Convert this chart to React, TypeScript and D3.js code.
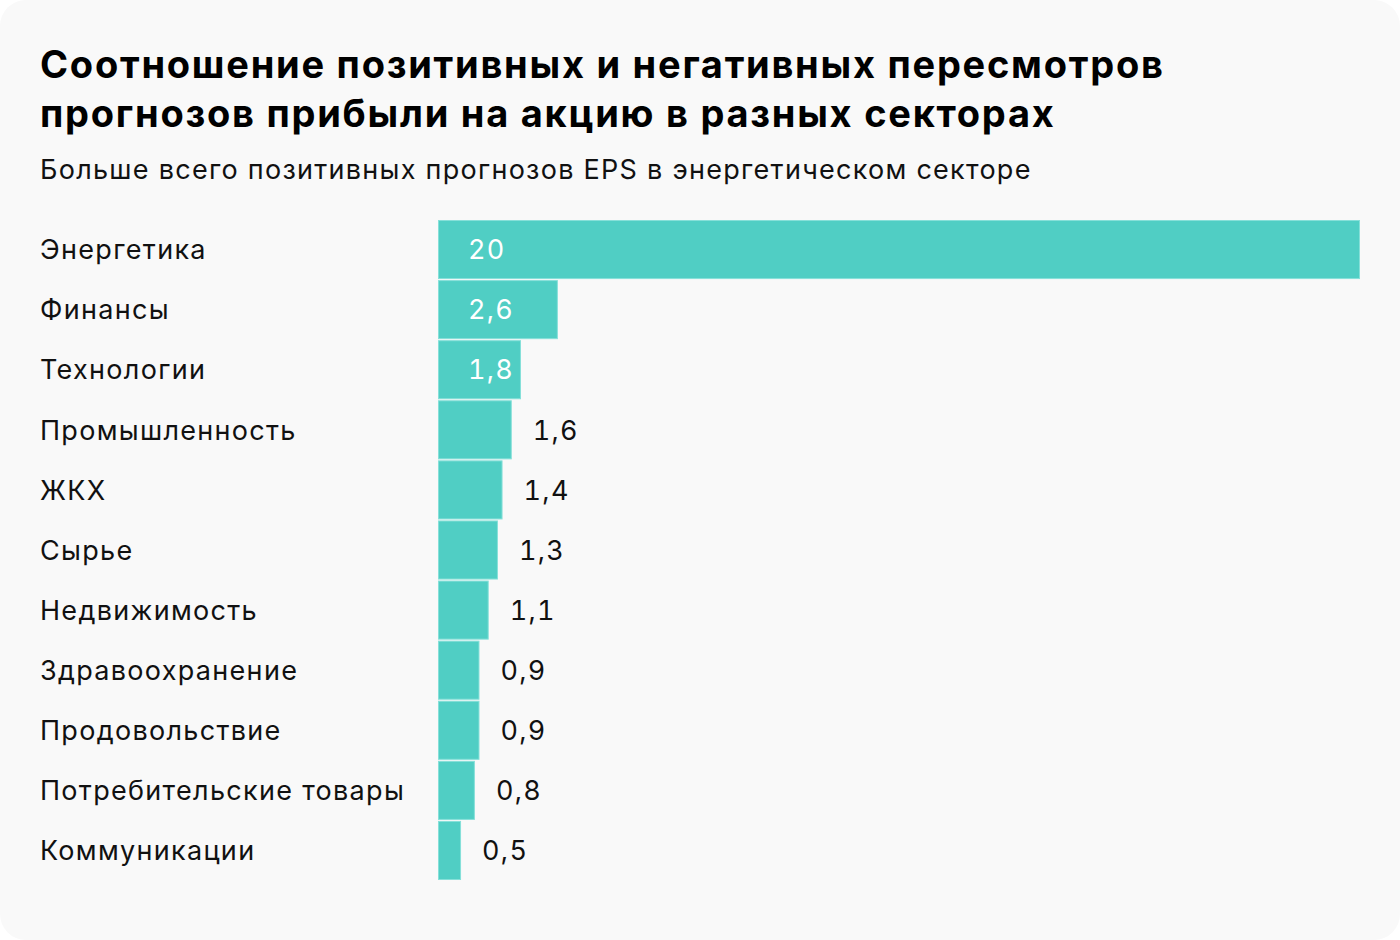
import * as d3 from "d3";

// Sector names and values (EPS revision ratio)
const sectors = [
  "Энергетика",
  "Финансы",
  "Технологии",
  "Промышленность",
  "ЖКХ",
  "Сырье",
  "Недвижимость",
  "Здравоохранение",
  "Продовольствие",
  "Потребительские товары",
  "Коммуникации",
];
const ratios = [20, 2.6, 1.8, 1.6, 1.4, 1.3, 1.1, 0.9, 0.9, 0.8, 0.5];

const titleLines = [
  "Соотношение позитивных и негативных пересмотров",
  "прогнозов прибыли на акцию в разных секторах",
];
const subtitle = "Больше всего позитивных прогнозов EPS в энергетическом секторе";

const W = 1400;
const H = 940;
const FONT = "Inter, 'Noto Sans', sans-serif";
const BAR = "#50cec4";
const BAR_EDGE = "#86e0d9";

export default function App() {
  const x = d3.scaleLinear().domain([0, 20]).range([438, 1360]);
  const y = d3
    .scaleBand<string>()
    .domain(sectors)
    .range([220, 880])
    .paddingInner(0.017)
    .paddingOuter(0);

  const fmt = (v: number) => String(v).replace(".", ",");

  return (
    <svg
      width={W}
      height={H}
      style={{ position: "absolute", left: 0, top: 0 }}
      fontFamily={FONT}
    >
      <rect x={0} y={0} width={W} height={H} fill="#ffffff" />
      <rect x={0} y={0} width={W} height={H} rx={26} fill="#f9f9f9" />

      {titleLines.map((t, i) => (
        <text
          key={i}
          x={40}
          y={78 + i * 49}
          fontSize={38}
          fontWeight={700}
          fill="#000"
          letterSpacing={1.75}
        >
          {t}
        </text>
      ))}
      <text x={40} y={179} fontSize={27} fill="#111" letterSpacing={1.27}>
        {subtitle}
      </text>

      {sectors.map((s, i) => {
        const v = ratios[i];
        const y0 = y(s)!;
        const bw = x(v) - x(0);
        const inside = bw >= 80;
        const cy = y0 + y.bandwidth() / 2;
        return (
          <g key={s}>
            <text
              x={40}
              y={cy}
              dy="0.36em"
              fontSize={27}
              fill="#111"
              letterSpacing={1.3}
            >
              {s}
            </text>
            <rect
              x={x(0) + 0.5}
              y={y0 + 0.5}
              width={bw - 1}
              height={y.bandwidth() - 1}
              fill={BAR}
              stroke={BAR_EDGE}
              strokeWidth={1}
            />
            <text
              x={inside ? x(0) + 30 : x(v) + 21}
              y={cy}
              dy="0.36em"
              fontSize={27}
              fill={inside ? "#ffffff" : "#111"}
              letterSpacing={1.3}
              style={{ fontFeatureSettings: "'tnum'" }}
            >
              {fmt(v)}
            </text>
          </g>
        );
      })}
    </svg>
  );
}
